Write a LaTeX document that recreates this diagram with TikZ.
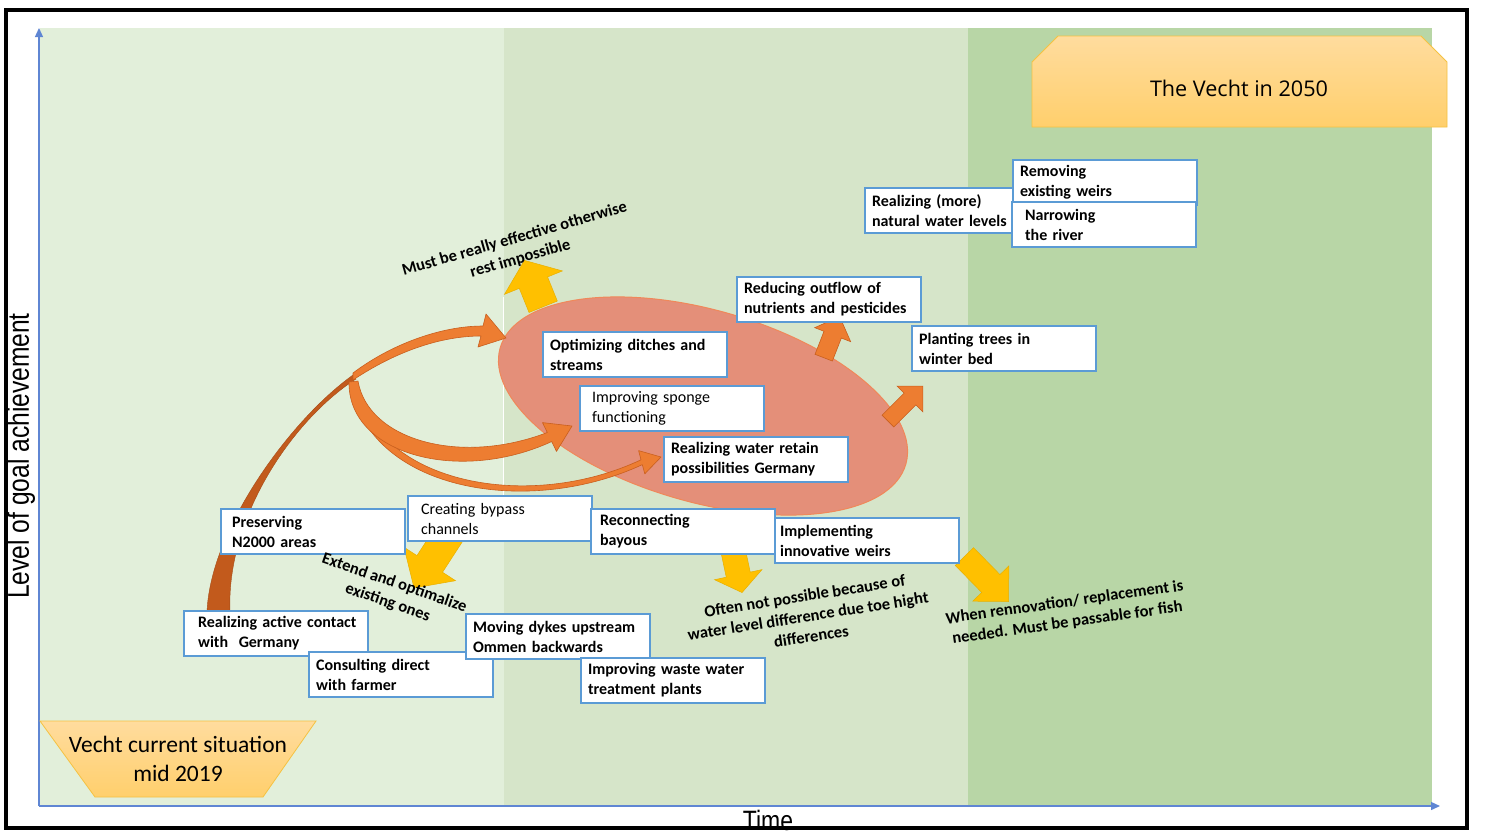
\documentclass[tikz,border=0pt]{standalone}
\usepackage{fontspec}
\setmainfont{Carlito}
\newfontfamily\axisfont{Liberation Sans}
\newfontfamily\bannerfont{Open Sans}
\usetikzlibrary{arrows.meta,shapes.geometric,shapes.arrows}

\definecolor{paneA}{HTML}{E2EFDA}
\definecolor{paneB}{HTML}{D6E5C9}
\definecolor{paneC}{HTML}{B8D6A6}
\definecolor{axisblue}{HTML}{5F86D3}
\definecolor{boxblue}{HTML}{5B9BD5}
\definecolor{coral}{HTML}{E48F79}
\definecolor{coralrim}{HTML}{F0885A}
\definecolor{orangeA}{HTML}{ED7D31}
\definecolor{orangeD}{HTML}{C95F1E}
\definecolor{brownarc}{HTML}{C25A1C}
\definecolor{gold}{HTML}{FFC000}
\definecolor{goldrim}{HTML}{E8B000}
\definecolor{tagtop}{HTML}{FFDC9E}
\definecolor{tagbot}{HTML}{FFCF6C}
\definecolor{tagrim}{HTML}{F5C242}

\tikzset{
  box/.style={draw=boxblue, line width=2.2pt, fill=white, anchor=north west,
    minimum width=184pt, minimum height=45pt, text width=170pt,
    inner xsep=7pt, inner ysep=3pt, align=left,
    font=\bfseries\fontsize{16}{20}\selectfont},
  lightbox/.style={box, font=\fontsize{16}{20}\selectfont},
  note/.style={font=\bfseries\fontsize{16.5}{20.5}\selectfont, align=center, inner sep=0pt},
  % shaft width = 2 x inner ysep, head width = shaft + 2 x head extend
  yarrow/.style={single arrow, fill=gold, draw=goldrim, line width=0.5pt,
    inner xsep=0pt, single arrow head indent=0pt},
  oarrow/.style={single arrow, fill=orangeA, draw=orangeD, line width=0.6pt,
    inner xsep=0pt, single arrow head indent=0pt},
  curvearrow/.style={fill=orangeA, draw=orangeD, line width=0.6pt, line join=round},
  axisline/.style={draw=axisblue, line width=1.3pt, -{Triangle[length=9pt,width=8pt]}},
  banner/.style={top color=tagtop, bottom color=tagbot, draw=tagrim, line width=0.8pt},
}

\begin{document}
\begin{tikzpicture}[x=1pt,y=-1pt]
\useasboundingbox (0,0) rectangle (1486,831);
\fill[white] (0,0) rectangle (1486,831);

% three time bands
\fill[paneA] (40,28) rectangle (504,806);
\fill[paneB] (504,28) rectangle (968,806);
\fill[paneC] (968,28) rectangle (1432,806);
\draw[white, line width=0.8pt] (503.5,297) -- (503.5,500);

% axes
\coordinate (origin) at (39,806);
\coordinate (ytop) at (39,28);
\coordinate (xend) at (1440,806);
\draw[axisline] (origin) -- (ytop);
\draw[axisline] (origin) -- (xend);

\node[rotate=90, font=\axisfont\fontsize{30}{30}\selectfont, inner sep=0pt] (ylabel) at (21,456)
  {\scalebox{0.82}[1]{Level of goal achievement}};
\node[anchor=base, font=\axisfont\fontsize{28}{28}\selectfont, inner sep=0pt] (xlabel) at (768,830)
  {\scalebox{0.82}[1]{Time}};

% yellow block arrows
\node[yarrow, minimum height=50pt, inner ysep=15pt, single arrow head extend=16pt,
  single arrow tip angle=105, rotate=112] (upwarn) at (536,289) {};
\node[yarrow, minimum height=68pt, inner ysep=15pt, single arrow head extend=15.5pt,
  single arrow tip angle=94, rotate=-123] (bypasswarn) at (436.5,553.5) {};
\node[yarrow, minimum height=44pt, inner ysep=12pt, single arrow head extend=12pt,
  single arrow tip angle=106, rotate=-78] (bayouwarn) at (736.5,566.5) {};
\node[yarrow, minimum height=63pt, inner ysep=12.5pt, single arrow head extend=12.5pt,
  single arrow tip angle=90, rotate=-45.6] (weirwarn) at (982,574.5) {};

% central cluster of measures
\node[ellipse, draw=coralrim, line width=1pt, fill=coral, minimum width=422pt,
  minimum height=192pt, rotate=-16, inner sep=0pt] (core) at (703,406) {};

% orange block arrows leaving the cluster
\node[oarrow, minimum height=44pt, inner ysep=9pt, single arrow head extend=10pt,
  single arrow tip angle=90, rotate=68.7] (toreduce) at (830,341.5) {};
\node[oarrow, minimum height=49.5pt, inner ysep=8pt, single arrow head extend=10pt,
  single arrow tip angle=90, rotate=45] (toplant) at (902.5,406.5) {};

% curved arrows feeding the cluster
\coordinate (fork) at (354,377);
\filldraw[fill=brownarc, draw=brownarc!85!black, line width=0.4pt]
  (207,612) .. controls (210,530) and (290,420) .. (353,375)
  -- (356,379) .. controls (295,418) and (226,515) .. (230,612) -- cycle;
\filldraw[curvearrow]
  (353,373) .. controls (390,345) and (440,326) .. (483,326)
  -- (486,314) -- (506,338) -- (478,347) -- (481,336)
  .. controls (440,336) and (395,352) .. (353,380) -- cycle;
\filldraw[curvearrow]
  (356,385) .. controls (378,485) and (530,512) .. (641,459.8)
  -- (638.6,450.6) -- (661,457) -- (644.8,473.8) -- (642.3,464.6)
  .. controls (530,517) and (372,492) .. (351,387) -- cycle;
\filldraw[curvearrow]
  (358,381) .. controls (368,440) and (460,466) .. (547.3,432.5)
  -- (542.5,422.6) -- (572,426) -- (556.5,451.4) -- (551.7,441.5)
  .. controls (460,484) and (348,455) .. (349,382) -- cycle;

% measures
\node[box] (natlevels) at (864,187) {Realizing (more)\\natural water levels};
\node[box] (removeweirs) at (1012,159) {Removing\\existing weirs};
\node[box] (narrow) at (1011,201) {\hspace*{6pt}Narrowing\\\hspace*{6pt}the river};
\node[box] (reduce) at (736,276) {Reducing outflow of\\nutrients and pesticides};
\node[box] (trees) at (911,325) {Planting trees in\\winter bed};
\node[box] (ditches) at (542,331) {Optimizing ditches and\\streams};
\node[lightbox] (sponge) at (579,385) {\hspace*{5pt}Improving sponge\\\hspace*{5pt}functioning};
\node[box] (retain) at (663,436) {Realizing water retain\\possibilities Germany};
\node[box] (n2000) at (220,508) {\hspace*{4pt}Preserving\\\hspace*{4pt}N2000 areas};
\node[lightbox] (bypass) at (407,495) {\hspace*{6pt}Creating bypass\\\hspace*{6pt}channels};
\node[box] (bayous) at (590,508) {\hspace*{2pt}Reconnecting\\\hspace*{2pt}bayous};
\node[box] (innoweirs) at (774,517) {\hspace*{-2pt}Implementing\\\hspace*{-2pt}innovative weirs};
\node[box] (contact) at (183,610) {\hspace*{7pt}Realizing active contact\\\hspace*{7pt}with\ \ Germany};
\node[box] (farmer) at (308,651) {Consulting direct\\with farmer};
\node[box] (dykes) at (465,613) {Moving dykes upstream\\Ommen backwards};
\node[box] (wastewater) at (580,657) {Improving waste water\\treatment plants};

% remarks
\node[note, rotate=16] (remarkTop) at (517.5,249)
  {Must be really effective otherwise\\rest impossible};
\node[note, rotate=-19] (remarkBypass) at (391,593)
  {Extend and optimalize\\existing ones};
\node[note, rotate=9] (remarkBayou) at (808,616)
  {Often not possible because of\\water level difference due toe hight\\differences};
\node[note, rotate=8] (remarkWeir) at (1066,613)
  {When rennovation/ replacement is\\needed. Must be passable for fish};

% start and goal labels
\path[banner] (40,721) -- (316,721) -- (263,797) -- (95,797) -- cycle;
\node[align=center, font=\fontsize{23.5}{29}\selectfont, inner sep=0pt] (start) at (178,759)
  {Vecht current situation\\mid 2019};
\path[banner] (1058,36) -- (1421,36) -- (1447,62) -- (1447,127) -- (1032,127) -- (1032,62) -- cycle;
\node[font=\bannerfont\fontsize{21.6}{24}\selectfont, inner sep=0pt] (goal) at (1239,88)
  {The Vecht in 2050};

% frame
\draw[line width=3.5pt] (6,10) rectangle (1467,828);
\end{tikzpicture}
\end{document}
